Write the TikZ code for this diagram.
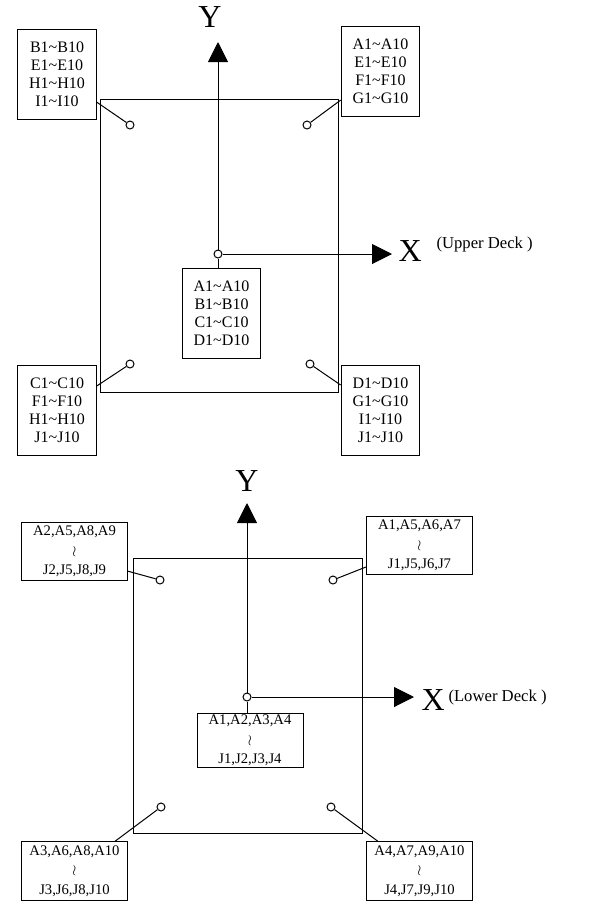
\documentclass[tikz,border=0pt]{standalone}
\usepackage{fontspec}
\setmainfont{Liberation Serif}
\usetikzlibrary{arrows.meta,calc}
\newcommand{\tld}{\textasciitilde}
\newcommand{\wig}{$\wr$}

\begin{document}
\begin{tikzpicture}[x=0.75pt, y=-0.75pt, line width=0.75pt, >={Triangle[length=15pt,width=15pt]},
    upbox/.style={draw, minimum width=59pt, minimum height=67.5pt, inner sep=0pt, align=center, font=\fontsize{12}{13.5}\selectfont},
    lowbox/.style={draw, minimum width=79.5pt, minimum height=44pt, inner sep=0pt, align=center, font=\fontsize{11}{14.5}\selectfont},
    joint/.style={circle, draw, fill=white, minimum size=6pt, inner sep=0pt},
    axlbl/.style={inner sep=0pt, font=\fontsize{24}{24}\selectfont},
    decklbl/.style={inner sep=0pt, font=\fontsize{12.5}{14}\selectfont}]
    \useasboundingbox (0,0) rectangle (616,901);

    % Upper deck frame
    \draw (100,99) rectangle (338,392);

    % Upper deck axes
    \node[joint] (uo) at (218,254) {};
    \coordinate (uytip) at (218,42);
    \coordinate (uxtip) at (392,254);
    \draw[->] (uo) -- (uytip);
    \draw[->] (uo) -- (uxtip);
    \node[axlbl] (uy) at (210,17) {Y};
    \node[axlbl, anchor=west] (ux) at (398,251) {X};
    \node[decklbl, anchor=west] (udeck) at (436,244) {(Upper Deck )};

    % Upper deck joints
    \node[joint] (utlj) at (130,125) {};
    \node[joint] (utrj) at (307,125) {};
    \node[joint] (ublj) at (130,364) {};
    \node[joint] (ubrj) at (310,364) {};

    % Upper deck boxes
    \node[upbox] (utl) at (57,74) {B1\tld B10\\E1\tld E10\\H1\tld H10\\I1\tld I10};
    \node[upbox] (utr) at (380.5,71) {A1\tld A10\\E1\tld E10\\F1\tld F10\\G1\tld G10};
    \node[upbox] (ubl) at (57,410.5) {C1\tld C10\\F1\tld F10\\H1\tld H10\\J1\tld J10};
    \node[upbox] (ubr) at (380.5,410.5) {D1\tld D10\\G1\tld G10\\I1\tld I10\\J1\tld J10};
    \node[upbox] (uc) at (221.5,313) {A1\tld A10\\B1\tld B10\\C1\tld C10\\D1\tld D10};

    % Upper deck leaders
    \draw (utlj) -- ($(utl.south east)!0.19!(utl.north east)$);
    \draw (utrj) -- ($(utr.south west)!0.18!(utr.north west)$);
    \draw (ublj) -- ($(ubl.north east)!0.23!(ubl.south east)$);
    \draw (ubrj) -- ($(ubr.north west)!0.22!(ubr.south west)$);
    \draw (uo) -- (uc.north -| uo);

    % Lower deck frame
    \draw (133,558) rectangle (362,833);

    % Lower deck axes
    \node[joint] (lo) at (247,697) {};
    \coordinate (lytip) at (247,503);
    \coordinate (lxtip) at (414,697);
    \draw[->] (lo) -- (lytip);
    \draw[->] (lo) -- (lxtip);
    \node[axlbl] (ly) at (247,481) {Y};
    \node[axlbl, anchor=west] (lx) at (421,700) {X};
    \node[decklbl, anchor=west] (ldeck) at (448,697) {(Lower Deck )};

    % Lower deck joints
    \node[joint] (ltlj) at (160,580) {};
    \node[joint] (ltrj) at (333,580) {};
    \node[joint] (lblj) at (161,807) {};
    \node[joint] (lbrj) at (331,807) {};

    % Lower deck boxes
    \node[lowbox] (ltl) at (74.5,551.5) {A2,A5,A8,A9\\\wig\\J2,J5,J8,J9};
    \node[lowbox] (ltr) at (419.5,545.5) {A1,A5,A6,A7\\\wig\\J1,J5,J6,J7};
    \node[lowbox] (lbl) at (74.5,871) {A3,A6,A8,A10\\\wig\\J3,J6,J8,J10};
    \node[lowbox] (lbr) at (419.5,871) {A4,A7,A9,A10\\\wig\\J4,J7,J9,J10};
    \node[lowbox, minimum height=41pt] (lc) at (250,740.5) {A1,A2,A3,A4\\\wig\\J1,J2,J3,J4};

    % Lower deck leaders
    \draw (ltlj) -- ($(ltl.south east)!0.17!(ltl.north east)$);
    \draw (ltrj) -- ($(ltr.south west)!0.14!(ltr.north west)$);
    \draw (lblj) -- ($(lbl.north west)!0.88!(lbl.north east)$);
    \draw (lbrj) -- ($(lbr.north west)!0.11!(lbr.north east)$);
    \draw (lo) -- (lc.north -| lo);
\end{tikzpicture}
\end{document}
